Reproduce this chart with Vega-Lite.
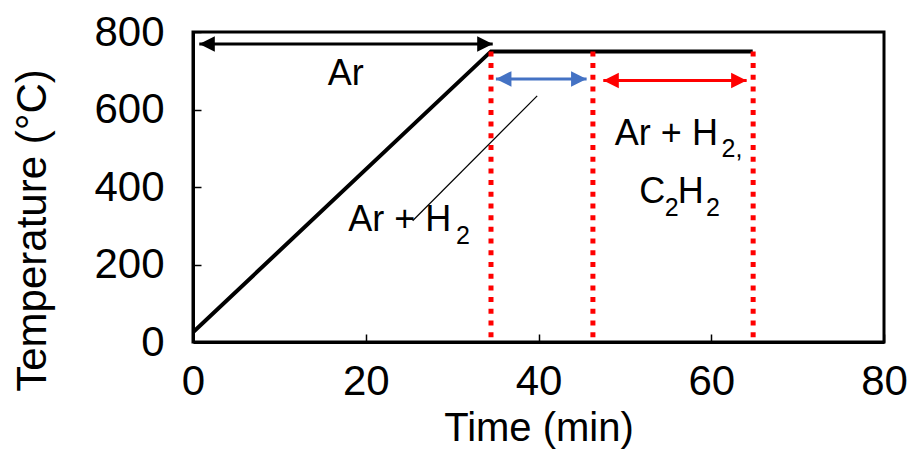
{
  "$schema": "https://vega.github.io/schema/vega-lite/v6.json",
  "width": 691,
  "height": 310,
  "autosize": "none",
  "padding": {"left": 193, "top": 32, "right": 30, "bottom": 108},
  "background": "white",
  "config": {
    "font": "Liberation Sans",
    "view": {"stroke": "black", "strokeWidth": 3},
    "axis": {
      "grid": false,
      "domainColor": "black",
      "domainWidth": 3,
      "tickColor": "black",
      "tickWidth": 1.5,
      "tickSize": -8,
      "labelFont": "Liberation Sans",
      "labelFontSize": 42,
      "labelColor": "black",
      "titleFont": "Liberation Sans",
      "titleFontSize": 42,
      "titleFontWeight": "normal",
      "titleColor": "black",
      "labelFlush": false,
      "labelOverlap": false
    }
  },
  "datasets": {
    "temp": [{"t": 0, "T": 25}, {"t": 34.5, "T": 750}, {"t": 64.8, "T": 750}],
    "reds": [{"t": 34.5, "top": 750, "bottom": 0}, {"t": 46.3, "top": 750, "bottom": 0}, {"t": 64.85, "top": 750, "bottom": 0}],
    "arrows": [
      {"g": "Ar", "x1": 0.73, "x2": 34.7, "y": 769},
      {"g": "H2", "x1": 35.07, "x2": 45.57, "y": 679},
      {"g": "C2H2", "x1": 47.5, "x2": 64.1, "y": 675}
    ],
    "heads": [
      {"g": "Ar", "dir": "L", "x": 1.63, "y": 769},
      {"g": "Ar", "dir": "R", "x": 33.8, "y": 769},
      {"g": "H2", "dir": "L", "x": 35.97, "y": 679},
      {"g": "H2", "dir": "R", "x": 44.67, "y": 679},
      {"g": "C2H2", "dir": "L", "x": 48.4, "y": 675},
      {"g": "C2H2", "dir": "R", "x": 63.2, "y": 675}
    ],
    "leader": [{"x": 25.43, "y": 313, "x2": 39.85, "y2": 635}],
    "labels": [
      {"txt": "Ar", "x": 15.59, "y": 664},
      {"txt": "Ar + H", "x": 17.97, "y": 285.6},
      {"txt": "Ar + H", "x": 48.84, "y": 508.8},
      {"txt": "C", "x": 51.66, "y": 358.8},
      {"txt": "H", "x": 56.13, "y": 358.8}
    ],
    "subs": [
      {"txt": "2", "x": 30.44, "y": 253.9},
      {"txt": "2,", "x": 61.19, "y": 478},
      {"txt": "2", "x": 54.63, "y": 326},
      {"txt": "2", "x": 59.38, "y": 326}
    ]
  },
  "layer": [
    {
      "data": {"name": "temp"},
      "mark": {"type": "line", "color": "black", "strokeWidth": 4, "clip": true},
      "encoding": {
        "x": {"field": "t", "type": "quantitative", "scale": {"domain": [0, 80], "nice": false},
          "axis": {"values": [0, 20, 40, 60, 80], "title": "Time (min)", "labelPadding": 27, "titleY": 98, "titleBaseline": "alphabetic", "titleFontSize": 40}},
        "y": {"field": "T", "type": "quantitative", "scale": {"domain": [0, 800], "nice": false},
          "axis": {"values": [0, 200, 400, 600, 800], "title": "Temperature (°C)", "labelPadding": 37, "titleX": -148, "titleY": 198, "titleBaseline": "alphabetic", "titleAlign": "center", "titleAngle": -90}}
      }
    },
    {
      "data": {"name": "reds"},
      "mark": {"type": "rule", "color": "#FF0000", "strokeWidth": 5, "strokeDash": [5, 6.7], "strokeCap": "butt"},
      "encoding": {
        "x": {"field": "t", "type": "quantitative"},
        "y": {"field": "top", "type": "quantitative"},
        "y2": {"field": "bottom"}
      }
    },
    {
      "data": {"name": "arrows"},
      "mark": {"type": "rule", "strokeWidth": 3},
      "encoding": {
        "x": {"field": "x1", "type": "quantitative"},
        "x2": {"field": "x2"},
        "y": {"field": "y", "type": "quantitative"},
        "color": {"field": "g", "type": "nominal", "scale": {"domain": ["Ar", "H2", "C2H2"], "range": ["black", "#4472C4", "#FF0000"]}, "legend": null}
      }
    },
    {
      "data": {"name": "heads"},
      "mark": {"type": "point", "filled": true, "size": 240, "opacity": 1},
      "encoding": {
        "x": {"field": "x", "type": "quantitative"},
        "y": {"field": "y", "type": "quantitative"},
        "shape": {"field": "dir", "type": "nominal", "scale": {"domain": ["L", "R"], "range": ["M-1,0L1,-1L1,1Z", "M1,0L-1,-1L-1,1Z"]}, "legend": null},
        "color": {"field": "g", "type": "nominal", "legend": null}
      }
    },
    {
      "data": {"name": "leader"},
      "mark": {"type": "rule", "color": "black", "strokeWidth": 1.2},
      "encoding": {
        "x": {"field": "x", "type": "quantitative"},
        "y": {"field": "y", "type": "quantitative"},
        "x2": {"field": "x2"},
        "y2": {"field": "y2"}
      }
    },
    {
      "data": {"name": "labels"},
      "mark": {"type": "text", "fontSize": 36, "font": "Liberation Sans", "align": "left", "baseline": "alphabetic", "color": "black"},
      "encoding": {
        "x": {"field": "x", "type": "quantitative"},
        "y": {"field": "y", "type": "quantitative"},
        "text": {"field": "txt"}
      }
    },
    {
      "data": {"name": "subs"},
      "mark": {"type": "text", "fontSize": 25, "font": "Liberation Sans", "align": "left", "baseline": "alphabetic", "color": "black"},
      "encoding": {
        "x": {"field": "x", "type": "quantitative"},
        "y": {"field": "y", "type": "quantitative"},
        "text": {"field": "txt"}
      }
    }
  ]
}
